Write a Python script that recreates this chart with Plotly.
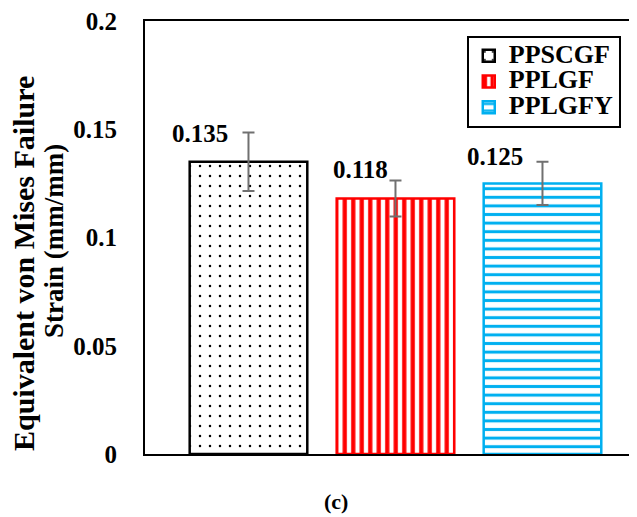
import plotly.graph_objects as go

categories = ["PPSCGF", "PPLGF", "PPLGFY"]
values = [0.135, 0.118, 0.125]
errors = [0.0135, 0.0083, 0.010]
value_labels = ["0.135", "0.118", "0.125"]
y_ticks = [0, 0.05, 0.1, 0.15, 0.2]
y_tick_labels = ["0", "0.05", "0.1", "0.15", "0.2"]

colors = ["#000000", "#FF0000", "#00B0F0"]
shapes = [".", "|", "-"]
pat_size = [10, 8.5, 8.6]
solidity = [0.05, 0.5, 0.35]
label_xshift = [-48, -35, -47]
label_yshift = [-1, 11, 5]

FONT = "Liberation Serif, Times New Roman, serif"

fig = go.Figure()
for i, cat in enumerate(categories):
    fig.add_trace(go.Bar(
        x=[i], y=[values[i]], width=0.8,
        name='<span style="font-size:26px">' + cat + '</span>',
        marker=dict(
            color="white",
            line=dict(color=colors[i], width=2.5),
            pattern=dict(shape=shapes[i], fgcolor=colors[i], bgcolor="white", fgopacity=1,
                         size=pat_size[i], solidity=solidity[i], fillmode="overlay"),
        ),
        error_y=dict(type="data", array=[errors[i]], color="#707070", thickness=2, width=6),
    ))
    fig.add_annotation(
        x=i, y=values[i] + errors[i], text=value_labels[i], showarrow=False,
        xshift=label_xshift[i], yshift=label_yshift[i],
        font=dict(family=FONT, size=25, color="black", weight="bold"),
    )

fig.add_annotation(xref="paper", yref="paper", x=-0.248, y=0.441, xanchor="center", yanchor="middle",
                   text="Equivalent von Mises Failure",
                   textangle=-90, showarrow=False, font=dict(family=FONT, size=30, color="black", weight="bold"))
fig.add_annotation(xref="paper", yref="paper", x=-0.185, y=0.492, xanchor="center", yanchor="middle",
                   text="Strain (mm/mm)",
                   textangle=-90, showarrow=False, font=dict(family=FONT, size=27, color="black", weight="bold"))
fig.add_annotation(xref="paper", yref="paper", x=0.388, y=-0.110, xanchor="center", yanchor="middle", text="(c)",
                   showarrow=False, font=dict(family=FONT, size=22, color="black", weight="bold"))

fig.update_layout(
    width=629, height=509,
    margin=dict(l=137, r=0, t=11, b=63),
    paper_bgcolor="white", plot_bgcolor="white",
    showlegend=True,
    legend=dict(x=0.654, y=0.9655, xanchor="left", yanchor="top",
                bordercolor="black", borderwidth=2, bgcolor="white",
                font=dict(family=FONT, size=17.5, color="black", weight="bold"),
                tracegroupgap=0, itemwidth=30),
    xaxis=dict(range=[-0.704, 2.643], showticklabels=False, showgrid=False, zeroline=False,
               showline=True, linecolor="black", linewidth=2, mirror=True, ticks=""),
    yaxis=dict(range=[0, 0.2], tickvals=y_ticks, ticktext=y_tick_labels, showgrid=False, zeroline=False,
               showline=True, linecolor="black", linewidth=2, ticks="", ticklabelstandoff=21,
               ticklabeloverflow="allow",
               tickfont=dict(family=FONT, size=25, color="black", weight="bold")),
    font=dict(family=FONT, color="black"),
)

fig.write_html("out.html")
